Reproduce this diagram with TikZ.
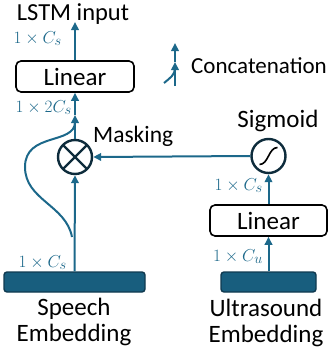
\documentclass[tikz,border=0pt]{standalone}
\usepackage{fontspec}
\setmainfont{Carlito}
\usetikzlibrary{arrows.meta}
\definecolor{flow}{RGB}{28,104,138}
\definecolor{embfill}{RGB}{24,94,126}
\definecolor{embline}{RGB}{16,58,80}
\definecolor{ringline}{RGB}{14,44,60}
\tikzset{
  x=1pt, y=1pt,
  flowline/.style={draw=flow, line width=2pt},
  tip/.style={-{Triangle[length=8pt,width=7.5pt]}},
  txt/.style={font=\fontsize{25}{29}\selectfont, inner sep=0pt, align=center},
  dim/.style={text=flow, font=\fontsize{19}{22}\selectfont, inner sep=0pt, anchor=base east},
  layerbox/.style={draw=black, line width=1.6pt, rounded corners=5pt, fill=white, inner sep=0pt},
  embbox/.style={draw=embline, line width=1.4pt, rounded corners=3pt, fill=embfill, inner sep=0pt},
  opcircle/.style={circle, draw=ringline, line width=2.4pt, fill=white, minimum size=34pt, inner sep=0pt},
}
\begin{document}
\begin{tikzpicture}
\useasboundingbox (0,0) rectangle (328,-356);

% speech branch
\node[embbox, minimum width=141pt, minimum height=20pt] (speech) at (74.5,-282) {};
\node[txt, anchor=base] (speechtxt) at (74,-315) {Speech};
\node[txt, anchor=base] (speechtxt2) at (74,-341) {Embedding};

\node[opcircle] (mask) at (75,-157) {};
\draw[ringline, line width=2.2pt] (mask.center) ++(45:16pt) -- ++(225:32pt);
\draw[ringline, line width=2.2pt] (mask.center) ++(135:16pt) -- ++(-45:32pt);
\node[txt, anchor=base west, font=\fontsize{23.5}{28}\selectfont] (masktxt) at (93,-142) {Masking};

\node[layerbox, minimum width=118pt, minimum height=31pt] (lin1) at (75,-76.5) {\fontsize{25}{29}\selectfont Linear};
\node[txt, anchor=base, font=\fontsize{24.5}{29}\selectfont] (lstm) at (73,-20) {LSTM input};
\coordinate (out) at (75,-22);
\coordinate (join) at (75,-115);
\coordinate (skip) at (72,-237);

% ultrasound branch
\node[embbox, minimum width=95pt, minimum height=20pt] (ultra) at (268.5,-282) {};
\node[txt, anchor=base] (ultratxt) at (266,-316) {Ultrasound};
\node[txt, anchor=base] (ultratxt2) at (266,-342) {Embedding};

\node[layerbox, minimum width=117pt, minimum height=31pt] (lin2) at (268.5,-220.5) {\fontsize{25}{29}\selectfont Linear};

\node[opcircle] (sig) at (268.5,-156) {};
\draw[black, line width=1.6pt] (sig.center) ++(-9,-8.5) .. controls +(9,0) and +(-9,0) .. ++(18,17);
\node[txt, anchor=base] (sigtxt) at (278,-127) {Sigmoid};

% connectors
\draw[flowline, tip] (speech.north) -- (mask.south);
\draw[flowline, tip] (mask.north) -- (join);
\draw[flowline, tip] (join) -- (lin1.south);
\draw[flowline, tip] (lin1.north) -- (out);
\draw[flowline] (skip) .. controls (66,-205) and (25,-200) .. (25,-167)
                       .. controls (25,-132) and (75,-145) .. (75,-122);
\draw[flowline, tip] (ultra.north) -- (lin2.south);
\draw[flowline, tip] (lin2.north) -- (sig.south);
\draw[flowline, tip] (sig.west) -- (mask.east);

% dimension labels
\node[dim] (d1) at (62,-43) {$1\times C_s$};
\node[dim] (d2) at (72,-112) {$1\times 2C_s$};
\node[dim] (d3) at (67,-267) {$1\times C_s$};
\node[dim] (d4) at (263,-190) {$1\times C_s$};
\node[dim] (d5) at (263,-261) {$1\times C_u$};

% legend
\coordinate (lgbot) at (175,-86);
\coordinate (lgmid) at (175,-62);
\coordinate (lgtop) at (175,-43);
\coordinate (lgin) at (164,-83);
\draw[flowline, tip] (lgbot) -- (lgmid);
\draw[flowline, tip] (lgmid) -- (lgtop);
\draw[flowline] (lgin) .. controls (170,-78) and (175,-75) .. (175,-68);
\node[txt, anchor=base west, font=\fontsize{23}{27}\selectfont] (lgtxt) at (191,-73) {Concatenation};
\end{tikzpicture}
\end{document}
